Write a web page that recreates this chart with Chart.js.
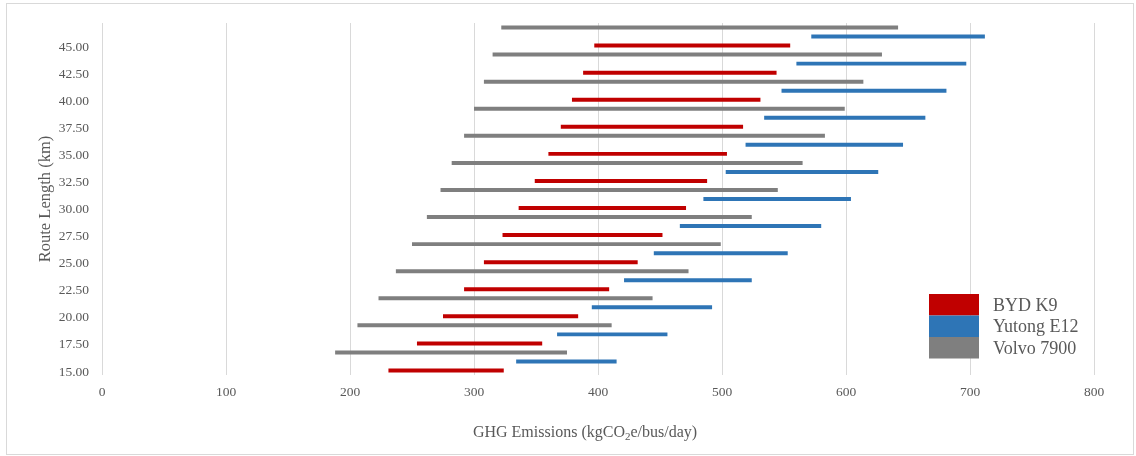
<!DOCTYPE html>
<html>
<head>
<meta charset="utf-8">
<title>GHG Emissions by Route Length</title>
<script src="https://cdn.jsdelivr.net/npm/chart.js@4.4.1/dist/chart.umd.min.js"></script>
<style>
  html, body { margin: 0; padding: 0; background: #ffffff; }
  #wrap { position: relative; width: 1136px; height: 456px; }
  #frame { position: absolute; left: 6px; top: 3px; width: 1126px; height: 450px;
           border: 1px solid #d9d9d9; pointer-events: none; }
  canvas { position: absolute; left: 0; top: 0; }
</style>
</head>
<body>
<div id="wrap">
  <canvas id="chart" width="1136" height="456"></canvas>
  <div id="frame"></div>
</div>
<script>
// Route lengths (km) shown on the category axis
const routeLengths = [15, 17.5, 20, 22.5, 25, 27.5, 30, 32.5, 35, 37.5, 40, 42.5, 45];
const routeLabels = routeLengths.map(v => v.toFixed(2));

// Daily emission ranges [low, high] in kgCO2e/bus/day, one pair per route length
const bydK9 = [
  [231, 324], [254, 355], [275, 384], [292, 409], [308, 432], [323, 452], [336, 471],
  [349, 488], [360, 504], [370, 517], [379, 531], [388, 544], [397, 555]
];
const yutongE12 = [
  [334, 415], [367, 456], [395, 492], [421, 524], [445, 553], [466, 580], [485, 604],
  [503, 626], [519, 646], [534, 664], [548, 681], [560, 697], [572, 712]
];
const volvo7900 = [
  [188, 375], [206, 411], [223, 444], [237, 473], [250, 499], [262, 524], [273, 545],
  [282, 565], [292, 583], [300, 599], [308, 614], [315, 629], [322, 642]
];

// X axis ticks
const emissionMin = 0;
const emissionMax = 800;
const emissionStep = 100;

const SERIF = '"Liberation Serif", "Times New Roman", serif';
const TEXT = '#595959';

// Legend drawn inside the plot area, lower right
const boxLegend = {
  id: 'boxLegend',
  afterDatasetsDraw(chart) {
    const { ctx, chartArea } = chart;
    const order = ['BYD K9', 'Yutong E12', 'Volvo 7900'];
    const x0 = chartArea.right - 165;
    const y0 = chartArea.bottom - 81;
    const w = 50, h = 21.5;
    ctx.save();
    ctx.font = '18px ' + SERIF;
    ctx.textBaseline = 'alphabetic';
    ctx.textAlign = 'left';
    order.forEach((name, i) => {
      const ds = chart.data.datasets.find(d => d.label === name);
      const y = y0 + i * h;
      ctx.fillStyle = ds.backgroundColor;
      ctx.fillRect(x0, y, w, h);
      ctx.fillStyle = TEXT;
      ctx.fillText(name, x0 + 64, y + h / 2 + 6);
    });
    ctx.restore();
  }
};

// X axis title with a subscript "2"
const xAxisTitle = {
  id: 'xAxisTitle',
  afterDraw(chart) {
    const { ctx, chartArea } = chart;
    const parts = [
      { t: 'GHG Emissions (kgCO', sub: false },
      { t: '2', sub: true },
      { t: 'e/bus/day)', sub: false }
    ];
    const big = '16px ' + SERIF, small = '11px ' + SERIF;
    ctx.save();
    let total = 0;
    parts.forEach(p => { ctx.font = p.sub ? small : big; p.w = ctx.measureText(p.t).width; total += p.w; });
    let x = (chartArea.left + chartArea.right) / 2 - 13 - total / 2;
    const base = chart.height - 19;
    ctx.fillStyle = TEXT;
    ctx.textBaseline = 'alphabetic';
    ctx.textAlign = 'left';
    parts.forEach(p => {
      ctx.font = p.sub ? small : big;
      ctx.fillText(p.t, x, p.sub ? base + 3 : base);
      x += p.w;
    });
    ctx.restore();
  }
};

new Chart(document.getElementById('chart'), {
  type: 'bar',
  data: {
    labels: routeLabels,
    datasets: [
      { label: 'Volvo 7900', data: volvo7900, backgroundColor: '#7f7f7f' },
      { label: 'Yutong E12', data: yutongE12, backgroundColor: '#2e75b6' },
      { label: 'BYD K9', data: bydK9, backgroundColor: '#c00000' }
    ]
  },
  options: {
    indexAxis: 'y',
    responsive: false,
    animation: false,
    layout: { padding: { top: 23, right: 42, left: 0, bottom: 0 } },
    datasets: {
      bar: { categoryPercentage: 1.0, barPercentage: 0.44, borderWidth: 0 }
    },
    plugins: {
      legend: { display: false },
      tooltip: { enabled: false }
    },
    scales: {
      x: {
        type: 'linear',
        min: emissionMin,
        max: emissionMax,
        ticks: { stepSize: emissionStep, color: TEXT, font: { family: SERIF, size: 13.5 }, padding: 9 },
        grid: { color: '#d9d9d9', drawTicks: false },
        border: { display: false },
        afterFit(scale) { scale.height = 81; }
      },
      y: {
        type: 'category',
        reverse: true,
        grid: { display: false, drawTicks: false },
        border: { display: false },
        ticks: { color: TEXT, font: { family: SERIF, size: 13.5 }, padding: 13, labelOffset: 10.5 },
        title: {
          display: true,
          text: 'Route Length (km)',
          color: TEXT,
          font: { family: SERIF, size: 16.5 },
          padding: { top: 36, bottom: 0 }
        },
        afterFit(scale) { scale.width = 102; }
      }
    }
  },
  plugins: [boxLegend, xAxisTitle]
});
</script>
</body>
</html>
